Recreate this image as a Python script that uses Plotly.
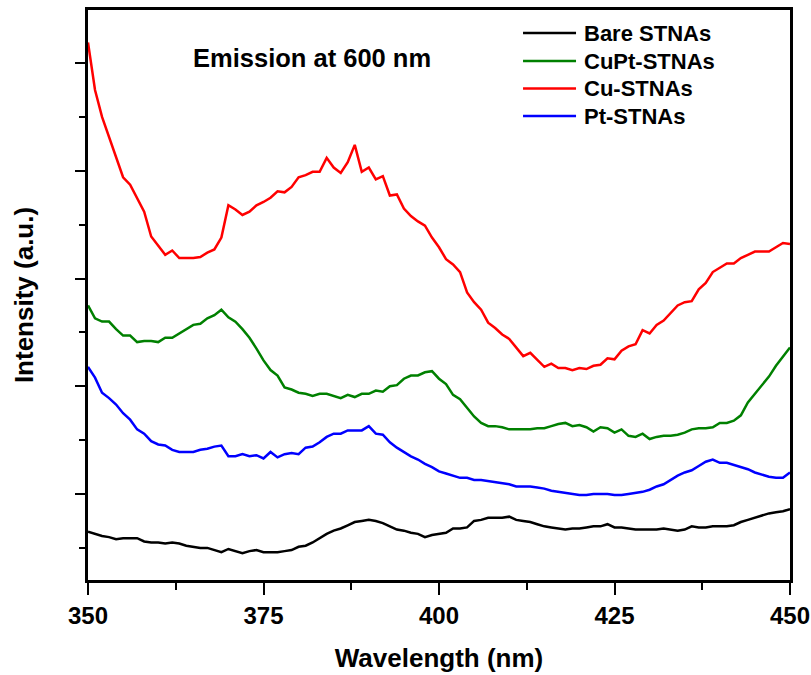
import plotly.graph_objects as go

wavelength = list(range(350, 451))

bare = [65, 63, 61, 60, 58, 59, 59, 59, 56, 55, 55, 54, 55, 54, 52, 51, 50, 50, 48, 46,
        49, 47, 45, 47, 48, 46, 46, 46, 47, 48, 51, 52, 55, 59, 63, 66, 68, 71, 74, 75,
        76, 75, 73, 70, 67, 66, 64, 63, 60, 62, 63, 64, 68, 68, 69, 75, 76, 78, 78, 78,
        79, 76, 75, 74, 72, 70, 69, 68, 67, 68, 68, 69, 70, 70, 72, 69, 69, 68, 67, 67,
        67, 67, 68, 67, 66, 67, 70, 69, 69, 70, 70, 70, 71, 74, 76, 78, 80, 82, 83, 84,
        86]

cupt = [275, 263, 260, 260, 253, 247, 247, 241, 242, 242, 241, 245, 245, 249, 253, 257, 258, 263, 266, 271,
        264, 260, 253, 245, 235, 224, 215, 210, 199, 197, 194, 193, 191, 193, 193, 191, 189, 192, 190, 193,
        193, 196, 195, 200, 201, 207, 210, 210, 213, 214, 207, 202, 192, 188, 180, 172, 166, 163, 163, 162,
        160, 160, 160, 160, 161, 161, 163, 165, 166, 163, 164, 162, 158, 162, 161, 157, 160, 154, 153, 156,
        151, 153, 154, 154, 155, 157, 160, 161, 161, 162, 166, 166, 168, 173, 185, 193, 200, 209, 219, 228,
        236]

cu = [519, 475, 450, 431, 412, 394, 387, 375, 362, 339, 331, 322, 326, 319, 319, 319, 320, 324, 327, 338,
      368, 364, 359, 362, 368, 371, 375, 381, 380, 385, 394, 396, 399, 399, 412, 403, 398, 408, 424, 399,
      403, 392, 395, 377, 378, 365, 358, 353, 349, 338, 329, 318, 313, 306, 287, 278, 271, 259, 254, 248,
      244, 236, 228, 231, 224, 218, 221, 217, 217, 215, 217, 216, 219, 220, 226, 225, 233, 237, 239, 252,
      249, 257, 261, 268, 275, 278, 279, 290, 296, 306, 310, 314, 314, 319, 322, 325, 325, 325, 329, 333,
      332]

pt = [218, 208, 194, 189, 183, 175, 169, 160, 156, 149, 146, 145, 141, 139, 139, 139, 141, 142, 144, 145,
      135, 135, 137, 135, 136, 133, 139, 134, 137, 138, 137, 143, 144, 148, 153, 156, 156, 159, 159, 159,
      163, 156, 155, 148, 143, 139, 135, 132, 128, 125, 121, 119, 117, 115, 115, 113, 113, 112, 111, 110,
      109, 107, 107, 107, 106, 105, 103, 102, 101, 100, 99, 99, 100, 100, 100, 99, 99, 100, 101, 102,
      104, 107, 109, 113, 117, 120, 122, 126, 130, 132, 129, 129, 127, 125, 123, 120, 118, 116, 115, 115,
      120]

series_names = ["Bare STNAs", "CuPt-STNAs", "Cu-STNAs", "Pt-STNAs"]
series_values = [bare, cupt, cu, pt]
series_colors = ["#000000", "#008000", "#FF0000", "#0000FF"]

x_ticks = [350, 375, 400, 425, 450]

FONT = "Arial, Liberation Sans, sans-serif"

fig = go.Figure()
for name, vals, col in zip(series_names, series_values, series_colors):
    fig.add_trace(go.Scatter(x=wavelength, y=vals, mode="lines", name=name,
                             line=dict(color=col, width=2.5), showlegend=False))

# legend drawn as line samples + labels (paper coordinates)
legend_rows_y = [0.9596, 0.9105, 0.8623, 0.8140]
legend_line_x = (0.6197, 0.6952)
legend_text_x = 0.7037
shapes = []
annotations = []
for name, col, ly in zip(series_names, series_colors, legend_rows_y):
    shapes.append(dict(type="line", xref="paper", yref="paper",
                       x0=legend_line_x[0], x1=legend_line_x[1], y0=ly, y1=ly,
                       line=dict(color=col, width=2.5)))
    annotations.append(dict(text="<b>" + name + "</b>", xref="paper", yref="paper",
                            x=legend_text_x, y=ly, xanchor="left", yanchor="middle",
                            showarrow=False, font=dict(family=FONT, size=22, color="black")))

annotations.append(dict(text="<b>Emission at 600 nm</b>", xref="paper", yref="paper",
                        x=0.3198, y=0.9165, xanchor="center", yanchor="middle",
                        showarrow=False, font=dict(family=FONT, size=25.5, color="black")))

fig.update_layout(
    width=811, height=675,
    margin=dict(l=88, r=21, t=10, b=95),
    paper_bgcolor="white", plot_bgcolor="white",
    font=dict(family=FONT, color="black"),
    showlegend=False,
    shapes=shapes,
    annotations=annotations,
)

fig.update_xaxes(
    range=[350, 450], tickvals=x_ticks, ticktext=[str(v) for v in x_ticks],
    ticks="outside", ticklen=12, tickwidth=2, tickcolor="black",
    minor=dict(dtick=12.5, tick0=350, ticks="outside", ticklen=7, tickwidth=2, tickcolor="black"),
    showline=True, linewidth=2.5, linecolor="black", mirror=True,
    showgrid=False, zeroline=False, automargin=False,
    tickfont=dict(family=FONT, size=24, color="black", weight="bold"),
    title=dict(text="Wavelength (nm)", font=dict(family=FONT, size=26, color="black", weight="bold"),
               standoff=22),
)

fig.update_yaxes(
    range=[20.2, 549.2], tick0=0, dtick=100,
    ticks="outside", ticklen=10, tickwidth=2, tickcolor="black",
    minor=dict(dtick=50, tick0=0, ticks="outside", ticklen=6, tickwidth=2, tickcolor="black"),
    showticklabels=False,
    showline=True, linewidth=2.5, linecolor="black", mirror=True,
    showgrid=False, zeroline=False, automargin=False,
    title=dict(text="Intensity (a.u.)", font=dict(family=FONT, size=26, color="black", weight="bold"),
               standoff=35),
)

fig.write_html("out.html")
